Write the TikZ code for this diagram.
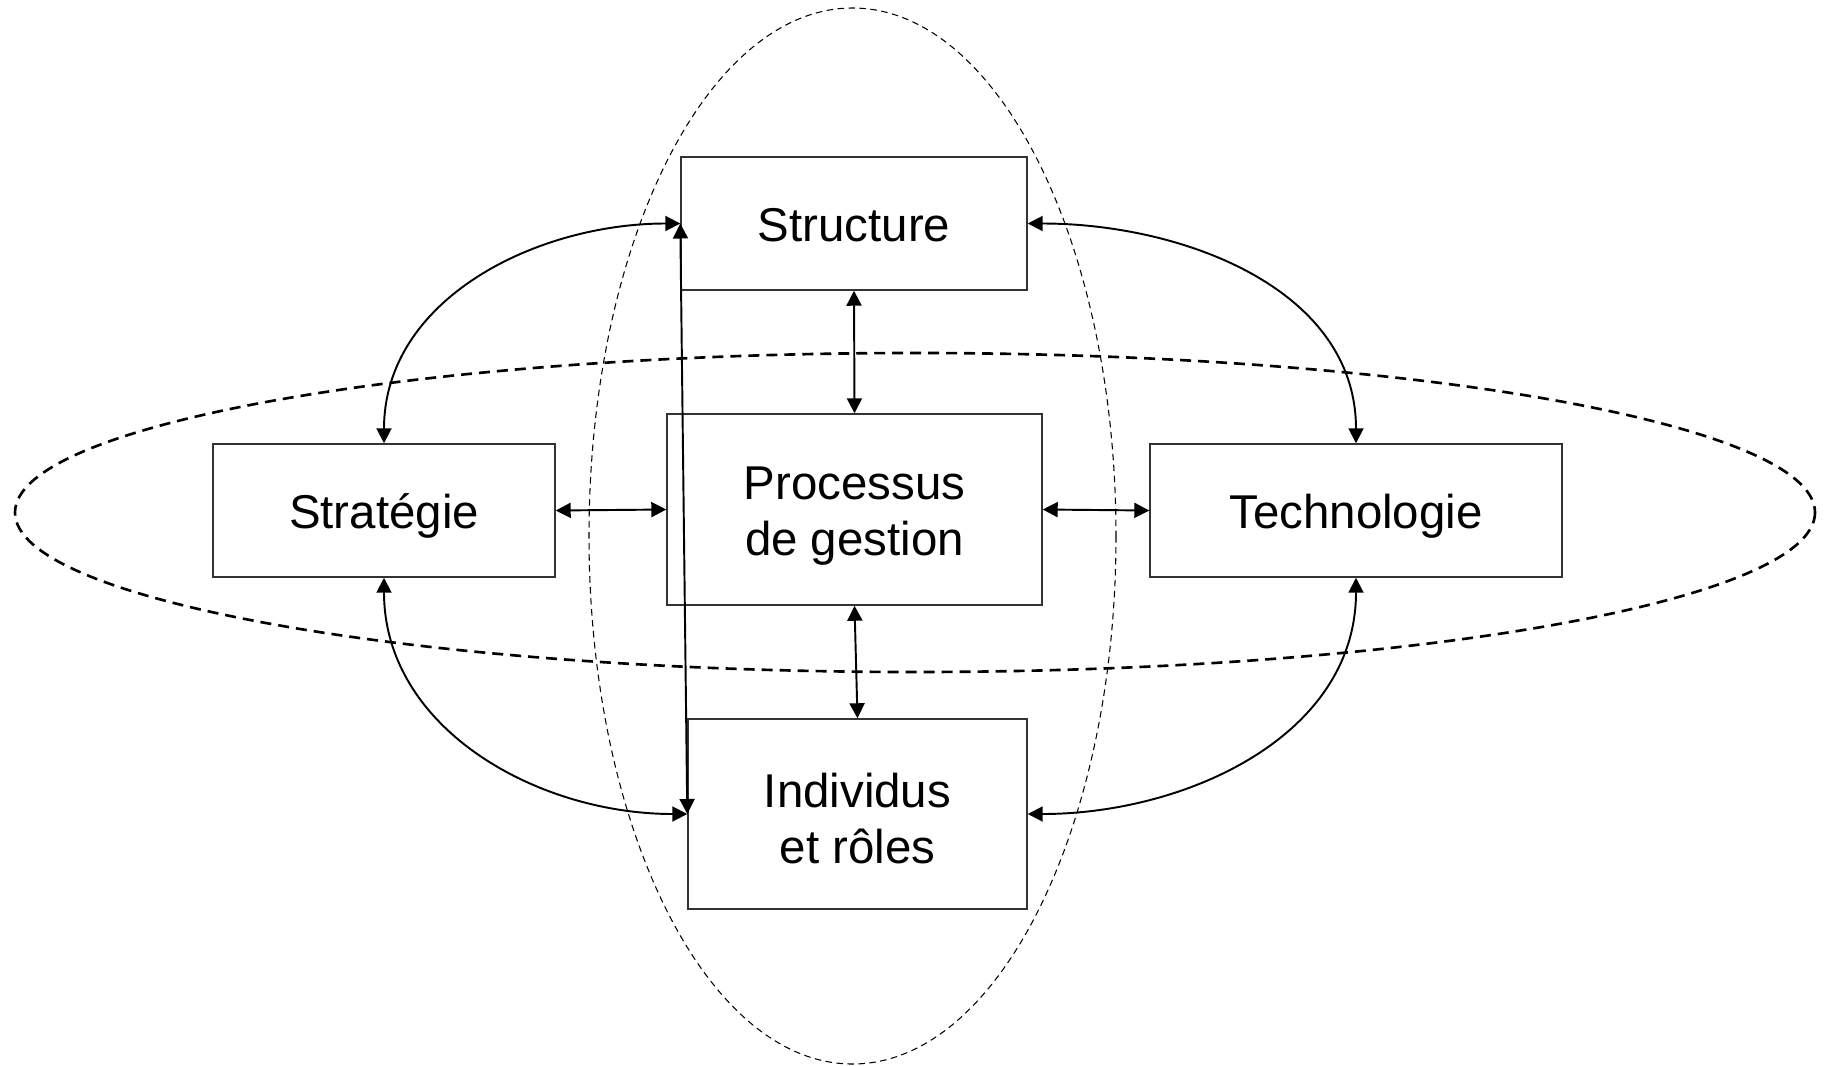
\documentclass[tikz,border=0pt]{standalone}
\usepackage{fontspec}
\setmainfont{Liberation Sans}
\usetikzlibrary{arrows.meta}

% texte sur deux lignes, descendu de #1 sans changer la taille de la boite
\newcommand\deuxlignes[3]{\raisebox{-#1}[\height][\depth]{\begin{tabular}{@{}c@{}}#2\\#3\end{tabular}}}

\begin{document}
\begin{tikzpicture}[x=0.02cm, y=-0.02cm,
    every node/.style={font=\fontsize{27}{32}\selectfont},
    bloc/.style={draw=black!80, line width=0.85pt, inner sep=0pt},
    ligne/.style={text height=20pt, text depth=0pt},
    lien/.style={{Triangle[length=3mm,width=3mm]}-{Triangle[length=3mm,width=3mm]}, line width=1.1pt},
    axeh/.style={line width=1.5pt, dash pattern=on 0.22cm off 0.14cm},
    axev/.style={line width=0.6pt, dash pattern=on 0.13cm off 0.09cm}]
      \useasboundingbox (0,0) rectangle (1829,1065);
      % les cinq blocs
      \node[bloc, ligne, anchor=center, minimum width=6.92cm, minimum height=2.66cm] (struct) at (854,223.5) {Structure};
      \node[bloc, anchor=center, minimum width=7.50cm, minimum height=3.82cm] (proc) at (854.5,509.5) {\deuxlignes{4pt}{Processus}{de gestion}};
      \node[bloc, ligne, anchor=center, minimum width=6.84cm, minimum height=2.66cm] (strat) at (384,510.5) {Stratégie};
      \node[bloc, ligne, anchor=center, minimum width=8.24cm, minimum height=2.66cm] (tech) at (1356,510.5) {Technologie};
      \node[bloc, anchor=center, minimum width=6.78cm, minimum height=3.80cm] (indiv) at (857.5,814) {\deuxlignes{5.9pt}{Individus}{et rôles}};
      % les deux ellipses
      \draw[axeh] (915,512.5) ellipse [x radius=900, y radius=159.5];
      \draw[axev] (852.5,536) ellipse [x radius=263.5, y radius=528];
      % liaisons
      \draw[lien] (strat.north) to[out=90, in=180] (struct.west);
      \draw[lien] (tech.north) to[out=90, in=0] (struct.east);
      \draw[lien] (strat.south) to[out=-90, in=180] (indiv.west);
      \draw[lien] (tech.south) to[out=-90, in=0] (indiv.east);
      \draw[lien] (strat.east) -- (proc.west);
      \draw[lien] (proc.east) -- (tech.west);
      \draw[lien] (struct.south) -- (proc.north);
      \draw[lien] (proc.south) -- (indiv.north);
      \draw[lien] (struct.west) -- (indiv.west);
    \end{tikzpicture}
\end{document}
